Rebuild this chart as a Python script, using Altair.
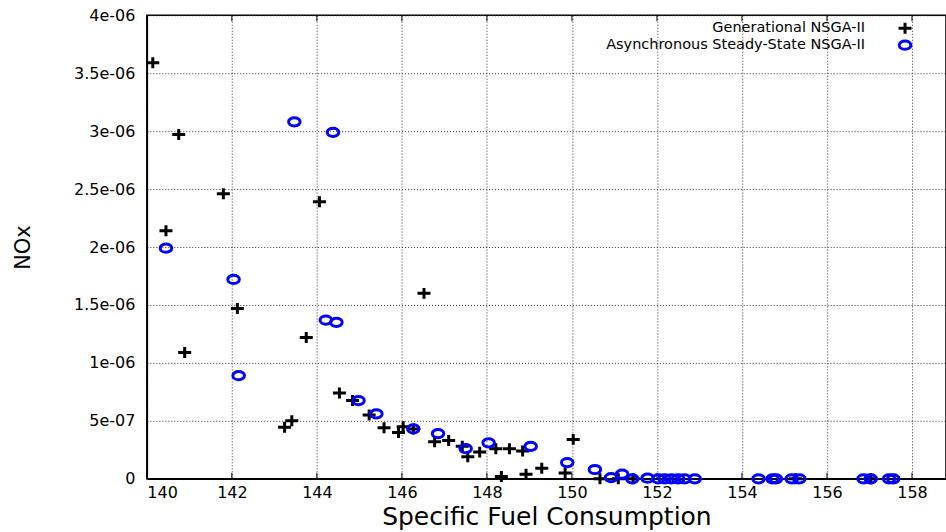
import json
import altair as alt
import pandas as pd

# Pareto front points: specific fuel consumption vs NOx
gen_sfc = [140.14, 140.45, 140.75, 140.89, 141.80, 142.13, 143.24, 143.41, 143.75,
           144.06, 144.53, 144.84, 145.23, 145.58, 145.92, 146.03, 146.27, 146.52,
           146.77, 147.10, 147.42, 147.55, 147.83, 148.21, 148.34, 148.53, 148.84,
           148.92, 149.29, 149.84, 150.03, 150.66, 151.09, 151.44, 155.26, 157.03]
gen_nox = [3.59e-6, 2.14e-6, 2.97e-6, 1.09e-6, 2.46e-6, 1.47e-6, 0.445e-6, 0.50e-6, 1.22e-6,
           2.39e-6, 0.74e-6, 0.675e-6, 0.55e-6, 0.44e-6, 0.40e-6, 0.45e-6, 0.43e-6, 1.60e-6,
           0.32e-6, 0.33e-6, 0.28e-6, 0.19e-6, 0.23e-6, 0.26e-6, 0.02e-6, 0.26e-6, 0.24e-6,
           0.04e-6, 0.09e-6, 0.05e-6, 0.34e-6, 0.0, 0.0, 0.0, 0.0, 0.0]

asy_sfc = [140.45, 142.04, 142.16, 143.47, 144.21, 144.38, 144.46, 144.98, 145.40,
           146.27, 146.85, 147.50, 148.04, 149.03, 149.89, 150.54, 150.92, 151.18,
           151.42, 151.78, 152.03, 152.18, 152.34, 152.50, 152.65, 152.89, 154.39,
           154.72, 154.80, 155.17, 155.35, 156.86, 157.03, 157.46, 157.56]
asy_nox = [1.99e-6, 1.72e-6, 0.89e-6, 3.08e-6, 1.37e-6, 2.99e-6, 1.35e-6, 0.675e-6, 0.56e-6,
           0.43e-6, 0.39e-6, 0.26e-6, 0.31e-6, 0.28e-6, 0.14e-6, 0.08e-6, 0.01e-6, 0.04e-6,
           0.0, 0.005e-6, 0.0, 0.0, 0.0, 0.0, 0.0, 0.0, 0.0,
           0.0, 0.0, 0.0, 0.0, 0.0, 0.0, 0.0, 0.0]

series_names = ["Generational NSGA-II", "Asynchronous Steady-State NSGA-II"]
x_ticks = [140, 142, 144, 146, 148, 150, 152, 154, 156, 158]
y_ticks = [0, 5e-7, 1e-6, 1.5e-6, 2e-6, 2.5e-6, 3e-6, 3.5e-6, 4e-6]
y_tick_labels = ["0", "5e-07", "1e-06", "1.5e-06", "2e-06", "2.5e-06", "3e-06", "3.5e-06", "4e-06"]

gen_df = pd.DataFrame({"sfc": gen_sfc, "nox": gen_nox, "series": series_names[0]})
asy_df = pd.DataFrame({"sfc": asy_sfc, "nox": asy_nox, "series": series_names[1]})
tick_df = pd.DataFrame({"sfc": x_ticks})

FONT = "DejaVu Sans"
PLUS = "M-1.3,0L1.3,0M0,-1.1L0,1.1"
RING = "M-1.4,0A1.4,1,0,1,0,1.4,0A1.4,1,0,1,0,-1.4,0Z"

label_expr = json.dumps(y_tick_labels) + "[round(datum.value * 2000000)]"

x_scale = alt.Scale(domain=[140, 158.8], nice=False, zero=False)

x_enc = alt.X(
    "sfc:Q",
    scale=x_scale,
    axis=alt.Axis(
        title="Specific Fuel Consumption", values=x_ticks, format="d",
        grid=True, tickSize=0, labelPadding=6, titlePadding=4,
    ),
)
y_enc = alt.Y(
    "nox:Q",
    scale=alt.Scale(domain=[0, 4e-6], nice=False),
    axis=alt.Axis(
        title="NOx", values=y_ticks, labelExpr=label_expr,
        grid=True, tickSize=0, labelPadding=12, titlePadding=40,
    ),
)

gen_layer = alt.Chart(gen_df).mark_point(
    shape=PLUS, size=100, filled=False, stroke="black", strokeWidth=3,
    strokeCap="butt", opacity=1,
).encode(x=x_enc, y=y_enc)

asy_layer = alt.Chart(asy_df).mark_point(
    shape=RING, size=68, filled=False, stroke="#0000ff", strokeWidth=3, opacity=1,
).encode(x="sfc:Q", y="nox:Q")

# inward tick marks on the top and bottom borders
top_ticks = alt.Chart(tick_df).mark_rule(color="black", strokeWidth=1).encode(
    x=alt.X("sfc:Q", scale=x_scale), y=alt.value(0), y2=alt.value(6)
)
bottom_ticks = alt.Chart(tick_df).mark_rule(color="black", strokeWidth=1).encode(
    x=alt.X("sfc:Q", scale=x_scale), y=alt.value(458), y2=alt.value(464)
)

# key in the upper right corner: right-aligned labels with the symbol after them
key_gen = pd.DataFrame({"label": [series_names[0]]})
key_asy = pd.DataFrame({"label": [series_names[1]]})

key_text_gen = alt.Chart(key_gen).mark_text(
    align="right", baseline="middle", font=FONT, fontSize=14.5, color="black",
).encode(text="label:N", x=alt.value(719), y=alt.value(13))
key_text_asy = alt.Chart(key_asy).mark_text(
    align="right", baseline="middle", font=FONT, fontSize=14.5, color="black",
).encode(text="label:N", x=alt.value(719), y=alt.value(30))
key_sym_gen = alt.Chart(key_gen).mark_point(
    shape=PLUS, size=100, filled=False, stroke="black", strokeWidth=3, opacity=1,
).encode(x=alt.value(759), y=alt.value(13))
key_sym_asy = alt.Chart(key_asy).mark_point(
    shape=RING, size=68, filled=False, stroke="#0000ff", strokeWidth=3, opacity=1,
).encode(x=alt.value(759), y=alt.value(30))

chart = alt.layer(
    top_ticks, bottom_ticks, gen_layer, asy_layer,
    key_text_gen, key_text_asy, key_sym_gen, key_sym_asy,
).properties(
    width=800,
    height=464,
    autosize=alt.AutoSizeParams(type="none"),
    padding={"left": 147, "top": 15, "right": 0, "bottom": 53},
    background="white",
).configure_view(
    stroke="black", strokeWidth=1.5,
).configure_axis(
    labelFont=FONT, labelFontSize=16, labelColor="black",
    titleFont=FONT, titleFontWeight="normal", titleColor="black",
    domainColor="black", domainWidth=1.5,
    gridColor="#333333", gridDash=[1, 2], gridWidth=1, gridOpacity=1,
).configure_axisX(
    titleFontSize=25,
).configure_axisY(
    titleFontSize=21,
)

chart.save("out.html", embed_options={"renderer": "svg", "actions": False})
